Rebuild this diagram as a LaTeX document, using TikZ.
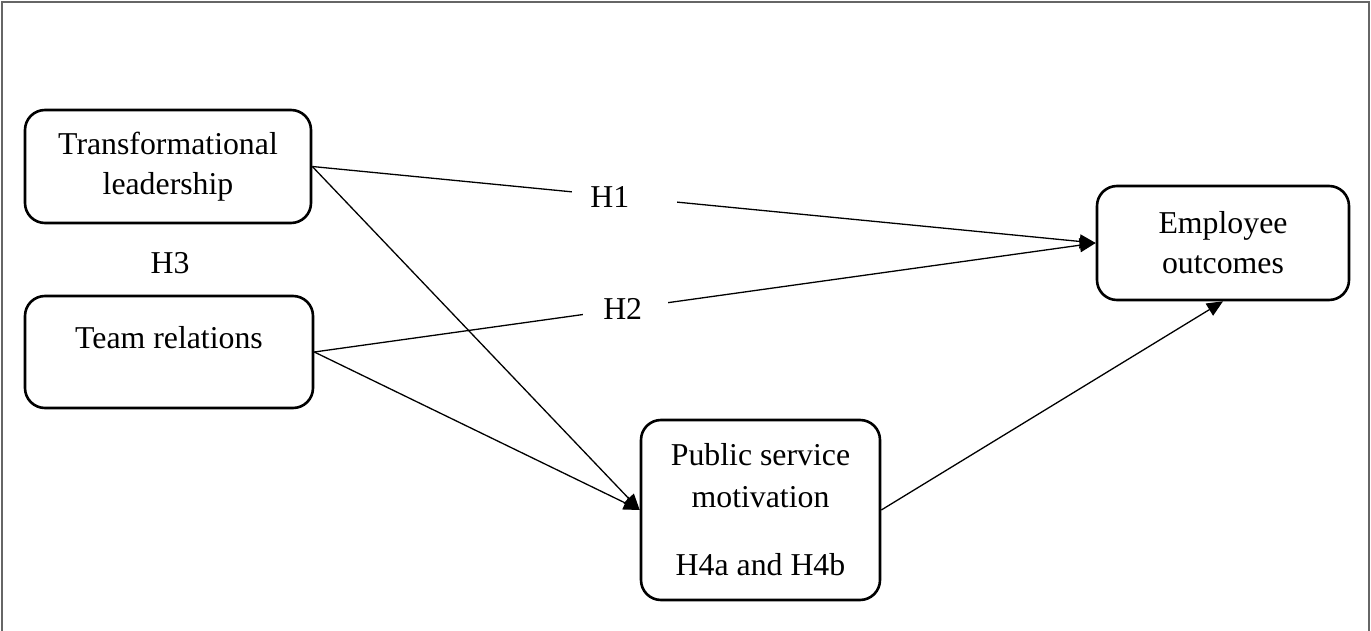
\documentclass[tikz,border=0pt]{standalone}
\usepackage{fontspec}
\setmainfont{Liberation Serif}
\usetikzlibrary{arrows.meta}
\begin{document}
\begin{tikzpicture}[x=1pt,y=-1pt,
  box/.style={draw, line width=2.6pt, rounded corners=20pt, fill=white, inner sep=0pt, align=center,
    font=\fontsize{31.8}{40}\selectfont},
  conn/.style={line width=1.3pt, -{Triangle[length=16pt,width=14pt]}},
  gaplabel/.style={fill=white, inner sep=0pt, align=left, minimum height=30pt,
    font=\fontsize{31.8}{40}\selectfont},
  plain/.style={inner sep=0pt, font=\fontsize{31.8}{40}\selectfont}]
\useasboundingbox (0,0) rectangle (1371,631);
\draw[black!60, line width=2pt] (2,631) -- (2,2) -- (1369,2) -- (1369,631);
\node[box, minimum width=286pt, minimum height=113pt] (tl) at (168,166.5) {Transformational\\leadership};
\node[box, minimum width=288pt, minimum height=112pt, text height=22pt, text depth=30pt] (tr) at (169,352) {Team relations};
\node[box, minimum width=252pt, minimum height=114pt] (eo) at (1223,243) {Employee\\outcomes};
\node[box, minimum width=239pt, minimum height=180pt, font=\fontsize{31.8}{42}\selectfont] (psm) at (760.5,510) {Public service\\motivation\\[26pt]H4a and H4b};
\node[plain] (h3) at (170,263.5) {H3};
\draw[conn] (tl.east) -- node[pos=0.399, gaplabel, text width=105pt] (h1) {\hspace*{18pt}H1} (eo.west);
\draw[conn] (tr.east) -- node[pos=0.3986, gaplabel, text width=85pt] (h2) {\hspace*{20pt}H2} (eo.west);
\draw[conn] (tl.east) -- (psm.west);
\draw[conn] (tr.east) -- (psm.west);
\draw[conn] (psm.east) -- (eo.south);
\end{tikzpicture}
\end{document}
